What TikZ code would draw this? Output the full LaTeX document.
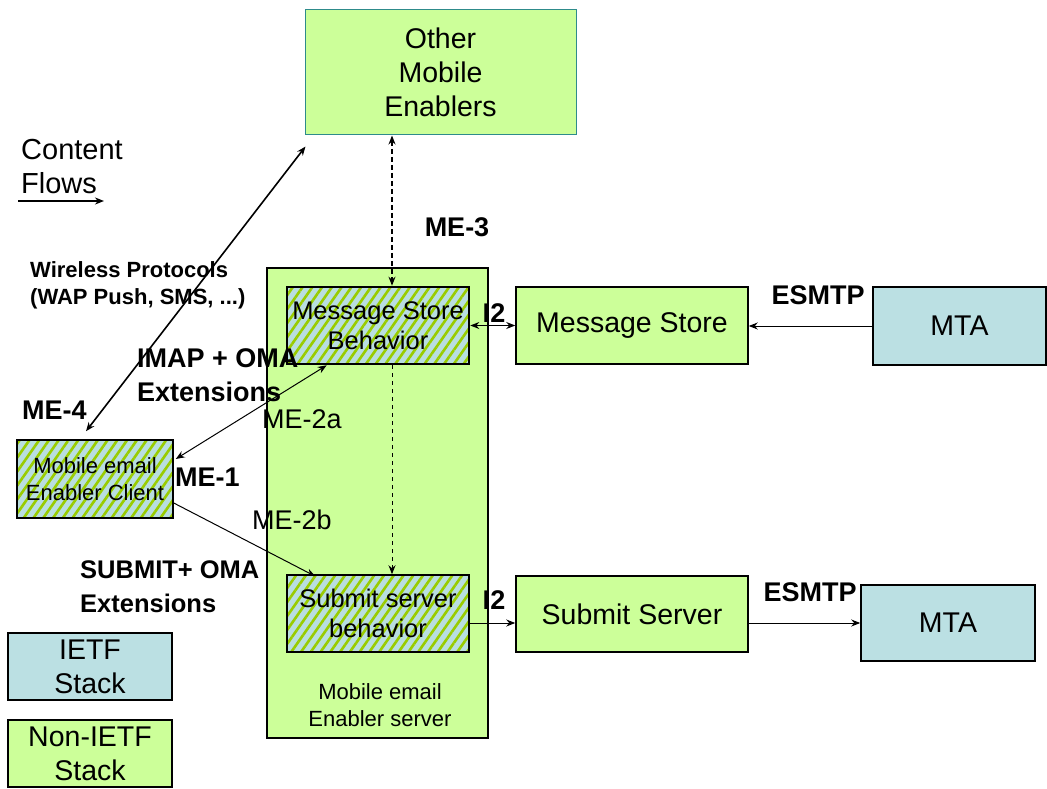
\documentclass[tikz,border=0pt]{standalone}
\usepackage{fontspec}
\setmainfont{Liberation Sans}
\usetikzlibrary{calc,arrows.meta,patterns.meta}

\definecolor{oma}{HTML}{CCFF99}
\definecolor{ietf}{HTML}{BBE0E3}
\definecolor{hatchbg}{HTML}{B9DEE0}
\definecolor{hatchgreen}{HTML}{99CC00}
\definecolor{tealedge}{HTML}{2E8B8B}

\tikzset{
  box/.style={draw=black, line width=1.5pt, inner sep=0pt, align=center},
  omabox/.style={box, fill=oma},
  ietfbox/.style={box, fill=ietf},
  hatchbox/.style={box, preaction={fill=hatchbg},
    pattern={Lines[angle=55,distance=8pt,line width=2.6pt]},
    pattern color=hatchgreen},
  bigtxt/.style={font=\fontsize{28.5}{34}\selectfont},
  midtxt/.style={font=\fontsize{25.5}{30}\selectfont},
  smalltxt/.style={font=\fontsize{22}{27}\selectfont},
  lbl/.style={inner sep=0pt, align=left, font=\bfseries\fontsize{27}{34}\selectfont},
  lblreg/.style={inner sep=0pt, align=left, font=\fontsize{27}{34}\selectfont},
  tip/.style={-{Stealth[length=9pt,width=7pt]}},
  tips/.style={{Stealth[length=9pt,width=7pt]}-{Stealth[length=9pt,width=7pt]}},
  flow/.style={line width=1.6pt},
  thinflow/.style={line width=1pt},
}

\begin{document}
\begin{tikzpicture}[x=1pt,y=-1pt]
\useasboundingbox[fill=white] (0,0) rectangle (1047,789);

% boxes
\node[omabox, draw=tealedge, line width=1pt, bigtxt, minimum width=271pt, minimum height=125pt]
  (ome) at (440.5,72.5) {Other\\Mobile\\Enablers};
\node[omabox, minimum width=221pt, minimum height=470pt] (srv) at (377.5,503) {};
\node[smalltxt, align=center] (srvlbl) at (380,705) {Mobile email\\Enabler server};
\node[hatchbox, midtxt, minimum width=182pt, minimum height=77pt] (msb) at (378,325.5)
  {Message Store\\Behavior};
\node[hatchbox, midtxt, minimum width=182pt, minimum height=77pt] (ssb) at (378,613.5)
  {Submit server\\behavior};
\node[omabox, bigtxt, minimum width=232pt, minimum height=77pt] (ms) at (632,325.5) {Message Store};
\node[ietfbox, bigtxt, minimum width=173pt, minimum height=78pt] (mta1) at (959.5,326) {MTA};
\node[omabox, bigtxt, minimum width=232pt, minimum height=76pt] (ss) at (632,614) {Submit Server};
\node[ietfbox, bigtxt, minimum width=174pt, minimum height=76pt] (mta2) at (948,623) {MTA};
\node[hatchbox, smalltxt, minimum width=156pt, minimum height=78pt] (cl) at (95,479)
  {Mobile email\\Enabler Client};
\node[ietfbox, bigtxt, line width=1.2pt, minimum width=164pt, minimum height=67pt] (ietfkey) at (90,666.5)
  {IETF\\Stack};
\node[omabox, bigtxt, line width=1.2pt, minimum width=164pt, minimum height=67pt] (nonietfkey) at (90,753.5)
  {Non-IETF\\Stack};

% content-flow legend
\node[lblreg, font=\fontsize{29}{34}\selectfont, anchor=west] (cflbl) at (21,167) {Content\\Flows};
\coordinate (cfa) at (18,201);
\coordinate (cfb) at (104,201);
\draw[flow, tip] (cfa) -- (cfb);

% connectors
\coordinate (me3x) at (392,0);
\draw[flow, tips, dashed, dash pattern=on 5pt off 3pt] (ome.south -| me3x) -- (msb.north -| me3x);
\draw[thinflow, tip, dashed, dash pattern=on 4pt off 4pt] (msb.south -| me3x) -- (ssb.north -| me3x);
\draw[flow, tips] ($(cl.north)+(-9,-8)$) -- ($(ome.south west)+(1,11)$);
\draw[thinflow, tips] ($(msb.south west)+(41,0)$) -- ($(cl.east)+(2,-20)$);
\draw[thinflow, tip] ($(cl.east)+(0,24)$) -- ($(ssb.north west)+(29,2)$);
\draw[thinflow, tips] (msb.east) -- (ms.west);
\draw[thinflow, tip] ($(ssb.east)+(0,9.5)$) -- ($(ss.west)+(0,9)$);
\draw[thinflow, tip] (mta1.west) -- (ms.east |- mta1.west);
\draw[thinflow, tip] (ss.east |- mta2.west) -- (mta2.west);

% labels
\node[lbl, font=\bfseries\fontsize{22}{27}\selectfont, anchor=west] (wplbl) at (30,285)
  {Wireless Protocols\\(WAP Push, SMS, ...)};
\node[lbl] (me3) at (457,227) {ME-3};
\node[lbl] (esmtp1) at (818,295) {ESMTP};
\node[lbl] (esmtp2) at (810,592) {ESMTP};
\node[lbl] (i2a) at (494,313) {I2};
\node[lbl] (i2b) at (494,600) {I2};
\node[lbl, anchor=west] (imap) at (137,375) {IMAP + OMA\\Extensions};
\node[lbl, anchor=west] (me4) at (22,410) {ME-4};
\node[lblreg, anchor=west] (me2a) at (262,419) {ME-2a};
\node[lbl, anchor=west] (me1) at (175,477) {ME-1};
\node[lblreg, anchor=west] (me2b) at (252,520) {ME-2b};
\node[lbl, font=\bfseries\fontsize{25.5}{34}\selectfont, anchor=west] (submit) at (80,587)
  {SUBMIT+ OMA\\Extensions};
\end{tikzpicture}
\end{document}
